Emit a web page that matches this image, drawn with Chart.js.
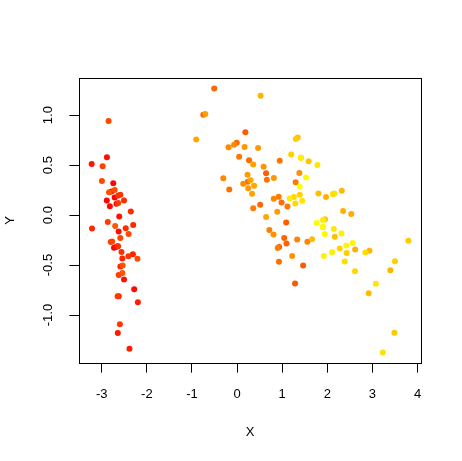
<!DOCTYPE html>
<html>
<head>
<meta charset="utf-8">
<script src="https://cdn.jsdelivr.net/npm/chart.js@4.4.1/dist/chart.umd.min.js"></script>
<style>
    body { margin: 0; background: #fff; }
    #wrap { width: 462px; height: 461px; }
</style>
</head>
<body>
<div id="wrap"><canvas id="scatterChart" width="462" height="461"></canvas></div>
<script>
// Point coordinates, in drawing order
const xValues = [
    -2.684, -2.714, -2.889, -2.745, -2.729, -2.281, -2.821, -2.626, -2.886, -2.673,
    -2.507, -2.613, -2.786, -3.224, -2.645, -2.386, -2.624, -2.648, -2.200, -2.588,
    -2.310, -2.544, -3.216, -2.303, -2.356, -2.507, -2.469, -2.562, -2.640, -2.632,
    -2.587, -2.410, -2.649, -2.599, -2.637, -2.866, -2.625, -2.801, -2.981, -2.590,
    -2.770, -2.849, -2.997, -2.406, -2.209, -2.714, -2.538, -2.839, -2.543, -2.703,
    1.285, 0.932, 1.464, 0.183, 1.088, 0.642, 1.095, -0.749, 1.044, -0.009,
    -0.508, 0.512, 0.265, 0.985, -0.174, 0.928, 0.660, 0.236, 0.945, 0.045,
    1.116, 0.358, 1.298, 0.922, 0.715, 0.900, 1.332, 1.558, 0.813, -0.306,
    -0.068, -0.190, 0.136, 1.380, 0.588, 0.807, 1.221, 0.815, 0.246, 0.166,
    0.465, 0.890, 0.231, -0.705, 0.357, 0.332, 0.376, 0.643, -0.906, 0.299,
    2.531, 1.414, 2.617, 1.971, 2.350, 3.397, 0.521, 2.933, 2.321, 2.918,
    1.662, 1.803, 2.166, 1.344, 1.586, 1.904, 1.950, 3.487, 3.796, 1.301,
    2.428, 1.199, 3.500, 1.389, 2.275, 2.614, 1.259, 1.291, 2.124, 2.388,
    2.842, 3.231, 2.159, 1.444, 1.780, 3.077, 2.144, 1.905, 1.169, 2.108,
    2.314, 1.922, 1.414, 2.563, 2.419, 1.944, 1.527, 1.764, 1.901, 1.390
];
const yValues = [
    -0.319, 0.177, 0.145, 0.318, -0.327, -0.741, 0.089, -0.163, 0.578, 0.114,
    -0.645, -0.015, 0.235, 0.511, -1.179, -1.338, -0.811, -0.312, -0.873, -0.514,
    -0.391, -0.433, -0.133, -0.099, 0.037, 0.146, -0.131, -0.368, -0.312, 0.197,
    0.204, -0.411, -0.813, -1.093, 0.121, -0.069, -0.599, -0.269, 0.488, -0.229,
    -0.264, 0.941, 0.342, -0.189, -0.437, 0.250, -0.504, 0.228, -0.579, -0.108,
    -0.685, -0.318, -0.504, 0.828, -0.075, 0.418, -0.283, 1.005, -0.228, 0.723,
    1.266, 0.104, 0.550, 0.125, 0.255, -0.467, 0.353, 0.334, 0.543, 0.584,
    0.085, 0.069, 0.328, 0.183, -0.149, -0.329, -0.244, -0.267, 0.163, 0.368,
    0.705, 0.680, 0.314, 0.421, 0.484, -0.194, -0.408, 0.372, 0.269, 0.682,
    0.671, 0.034, 0.404, 1.012, 0.505, 0.213, 0.293, -0.018, 0.756, 0.349,
    0.010, 0.575, -0.344, 0.180, 0.040, -0.551, 1.193, -0.356, 0.244, -0.783,
    -0.242, 0.216, -0.216, 0.776, 0.540, -0.119, -0.042, -1.176, -0.257, 0.761,
    -0.378, 0.606, -0.461, 0.204, -0.335, -0.561, 0.180, 0.117, 0.210, -0.465,
    -0.375, -1.374, 0.217, 0.143, 0.500, -0.688, -0.140, -0.049, 0.165, -0.372,
    -0.184, -0.409, 0.575, -0.278, -0.305, -0.188, 0.375, -0.079, -0.117, 0.283
];
const xTicks = [-3, -2, -1, 0, 1, 2, 3, 4];
const yTicks = [-1.0, -0.5, 0.0, 0.5, 1.0];
const yTickLabels = ['-1.0', '-0.5', '0.0', '0.5', '1.0'];

const FONT = 'Liberation Sans, Arial, sans-serif';

// axis limits padded by 4% like base R plots
function paddedRange(values) {
    const lo = Math.min(...values), hi = Math.max(...values);
    const pad = (hi - lo) * 0.04;
    return [lo - pad, hi + pad];
}

// red -> yellow along the drawing order
function heatColor(i, n) {
    const hue = (i / (n - 1)) * 60;
    return `hsl(${hue}, 100%, 50%)`;
}

// box around the plot + rotated y tick labels
const framePlugin = {
    id: 'frame',
    afterDraw(chart) {
        const { ctx, chartArea } = chart;
        const yScale = chart.scales.y;
        ctx.save();
        ctx.strokeStyle = '#000';
        ctx.lineWidth = 1;
        ctx.strokeRect(Math.round(chartArea.left) + 0.5, Math.round(chartArea.top) + 0.5,
            Math.round(chartArea.right - chartArea.left), Math.round(chartArea.bottom - chartArea.top));

        ctx.fillStyle = '#000';
        ctx.font = '13px ' + FONT;
        ctx.textAlign = 'center';
        ctx.textBaseline = 'middle';
        yTicks.forEach((v, i) => {
            const py = yScale.getPixelForValue(v);
            ctx.save();
            ctx.translate(48, py);
            ctx.rotate(-Math.PI / 2);
            ctx.fillText(yTickLabels[i], 0, 0);
            ctx.restore();
        });
        ctx.restore();
    }
};

document.addEventListener('DOMContentLoaded', function() {
    const ctx = document.getElementById('scatterChart').getContext('2d');
    const [xMin, xMax] = paddedRange(xValues);
    const [yMin, yMax] = paddedRange(yValues);
    const points = xValues.map((x, i) => ({ x: x, y: yValues[i] }));

    new Chart(ctx, {
        type: 'scatter',
        data: {
            datasets: [{
                data: points,
                pointRadius: 3,
                pointHoverRadius: 3,
                borderWidth: 0,
                backgroundColor: c => heatColor(c.dataIndex, points.length),
                borderColor: c => heatColor(c.dataIndex, points.length)
            }]
        },
        options: {
            responsive: false,
            animation: false,
            events: [],
            layout: {
                padding: { left: 0, top: 78, right: 41, bottom: 0 }
            },
            plugins: {
                legend: { display: false },
                tooltip: { enabled: false }
            },
            scales: {
                x: {
                    type: 'linear',
                    min: xMin,
                    max: xMax,
                    afterBuildTicks: s => { s.ticks = xTicks.map(v => ({ value: v })); },
                    afterFit: s => { s.height = 98; },
                    border: { display: false },
                    grid: {
                        drawOnChartArea: false,
                        drawTicks: true,
                        tickLength: 9.6,
                        color: '#000',
                        lineWidth: 1
                    },
                    ticks: {
                        color: '#000',
                        font: { family: FONT, size: 13 },
                        padding: 13.6,
                        maxRotation: 0,
                        callback: v => String(v)
                    },
                    title: {
                        display: true,
                        text: 'X',
                        color: '#000',
                        font: { family: FONT, size: 13 },
                        padding: { top: 21, bottom: 21 }
                    }
                },
                y: {
                    type: 'linear',
                    min: yMin,
                    max: yMax,
                    afterBuildTicks: s => { s.ticks = yTicks.map(v => ({ value: v })); },
                    afterFit: s => { s.width = 79; },
                    border: { display: false },
                    grid: {
                        drawOnChartArea: false,
                        drawTicks: true,
                        tickLength: 9.6,
                        color: '#000',
                        lineWidth: 1
                    },
                    ticks: { display: false },
                    title: {
                        display: true,
                        text: 'Y',
                        color: '#000',
                        font: { family: FONT, size: 13 },
                        padding: { top: 3, bottom: 3 }
                    }
                }
            }
        },
        plugins: [framePlugin]
    });
});
</script>
</body>
</html>
